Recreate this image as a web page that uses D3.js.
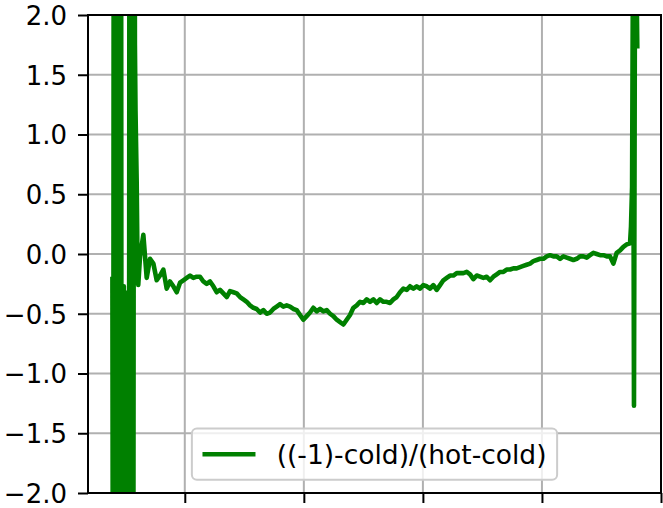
<!DOCTYPE html>
<html><head><meta charset="utf-8">
<script src="https://cdn.jsdelivr.net/npm/d3@7"></script>
<style>html,body{margin:0;padding:0;background:#fff;} svg{display:block;font-family:"DejaVu Sans",sans-serif;}</style>
</head><body><svg id="chart" width="663" height="508"></svg>
<script>
const seriesLabel = "((-1)-cold)/(hot-cold)";
const yTicks = [-2, -1.5, -1, -0.5, 0, 0.5, 1, 1.5, 2];
const xTicks = [1000, 2000, 3000, 4000, 5000];
const xLimits = [187, 5000];
const yLimits = [-2, 2];

// left edge: wild oscillation
const leftSpikeX = [392,398,404,410,416,422,428,434,440,446,452,458,464,470,476,482,488,494,500,506,512,518,524,530,536,542,548,554,560,566,571,576,581,586,591,596,601,609];
const leftSpikeY = [-0.19,-5,5,-5,5,-5,5,-5,5,-5,5,-5,5,-5,-0.28,-5,-0.27,-5,-0.32,-5,-0.55,-5,-0.55,-5,5,-5,5,-5,5,-5,0.55,5,1.75,1.2,0.9,0.6,0.1,-0.26];

// main body, evenly sampled
const bodyStartX = 624;
const bodyStepX = 28;
const bodyY = [
 -0.02,0.16,-0.20,-0.04,-0.08,-0.22,-0.18,-0.13,-0.29,-0.23,
 -0.27,-0.32,-0.24,-0.22,-0.20,-0.18,-0.20,-0.19,-0.19,-0.23,
 -0.25,-0.23,-0.27,-0.32,-0.30,-0.33,-0.36,-0.31,-0.32,-0.33,
 -0.36,-0.38,-0.40,-0.43,-0.45,-0.46,-0.49,-0.47,-0.50,-0.49,
 -0.46,-0.44,-0.42,-0.44,-0.43,-0.44,-0.46,-0.47,-0.51,-0.55,
 -0.52,-0.49,-0.45,-0.48,-0.46,-0.48,-0.47,-0.50,-0.52,-0.55,
 -0.57,-0.59,-0.55,-0.51,-0.45,-0.43,-0.40,-0.41,-0.38,-0.40,
 -0.38,-0.41,-0.38,-0.40,-0.40,-0.41,-0.38,-0.36,-0.32,-0.29,
 -0.30,-0.27,-0.29,-0.27,-0.29,-0.26,-0.27,-0.29,-0.26,-0.30,
 -0.26,-0.22,-0.20,-0.18,-0.18,-0.16,-0.16,-0.16,-0.15,-0.17,
 -0.21,-0.18,-0.19,-0.20,-0.19,-0.22,-0.19,-0.17,-0.15,-0.15,
 -0.13,-0.13,-0.12,-0.12,-0.11,-0.10,-0.09,-0.08,-0.06,-0.05,
 -0.04,-0.04,-0.02,-0.01,-0.02,-0.02,-0.04,-0.02,-0.03,-0.04,
 -0.05,-0.04,-0.02,-0.02,-0.03,-0.01,0.01,0.00,-0.01,-0.01,
 -0.02,-0.02,-0.08,0.01,0.03,0.06,0.08,0.09
];

// right edge spike
const rightSpikeX = [4748,4757,4765,4773,4782,4792,4801];
const rightSpikeY = [0.23,0.56,2.6,-1.27,2.6,2.5,1.72];

const W = 663, H = 508;
const margin = {left: 88, right: 2, top: 15, bottom: 15};
const L = margin.left, R = W - margin.right, T = margin.top, B = H - margin.bottom;
const tickFs = 26, legFs = 26.5;

const points = [];
leftSpikeX.forEach((x, i) => points.push([x, leftSpikeY[i]]));
bodyY.forEach((y, i) => points.push([bodyStartX + i * bodyStepX, y]));
rightSpikeX.forEach((x, i) => points.push([x, rightSpikeY[i]]));

const x = d3.scaleLinear().domain(xLimits).range([L, R]);
const y = d3.scaleLinear().domain(yLimits).range([B, T]);

const svg = d3.select("#chart");
svg.append("rect").attr("width", W).attr("height", H).attr("fill", "#fff");

svg.append("defs").append("clipPath").attr("id", "clip")
  .append("rect").attr("x", L).attr("y", T).attr("width", R - L).attr("height", B - T);

// grid
const grid = svg.append("g").attr("stroke", "#b0b0b0").attr("stroke-width", 2);
xTicks.forEach(t => grid.append("line").attr("x1", x(t)).attr("x2", x(t)).attr("y1", T).attr("y2", B));
yTicks.forEach(t => grid.append("line").attr("x1", L).attr("x2", R).attr("y1", y(t)).attr("y2", y(t)));

// line
svg.append("path").datum(points)
  .attr("clip-path", "url(#clip)")
  .attr("fill", "none").attr("stroke", "#008000").attr("stroke-width", 4.6)
  .attr("stroke-linejoin", "round")
  .attr("d", d3.line().x(d => x(d[0])).y(d => y(d[1])));

// axes (x tick labels fall below the visible area in the reference, so only the marks are drawn)
const yAxis = d3.axisLeft(y).tickValues(yTicks).tickFormat(d3.format(".1f")).tickSize(10).tickPadding(11);
const gy = svg.append("g").attr("transform", `translate(${L},0)`).call(yAxis);
const xAxis = d3.axisBottom(x).tickValues(xTicks).tickFormat(() => "").tickSize(10);
const gx = svg.append("g").attr("transform", `translate(0,${B})`).call(xAxis);
[gx, gy].forEach(g => {
  g.select(".domain").remove();
  g.selectAll(".tick line").attr("stroke", "#000").attr("stroke-width", 2);
  g.selectAll(".tick text").attr("fill", "#000").attr("font-size", tickFs).attr("font-family", "DejaVu Sans");
});
gx.selectAll(".tick text").remove();
gy.selectAll(".tick text").attr("dy", "0.36em");

// frame
svg.append("rect").attr("x", L).attr("y", T).attr("width", R - L).attr("height", B - T)
  .attr("fill", "none").attr("stroke", "#000").attr("stroke-width", 2);

// legend
const leg = svg.append("g");
const box = leg.append("rect");
const lineSample = leg.append("line");
const txt = leg.append("text").text(seriesLabel).attr("font-size", legFs).attr("fill", "#000");
const tw = txt.node().getComputedTextLength();
const pad = 0.4 * legFs, hl = 2 * legFs, htp = 0.8 * legFs;
const bw = 2 * pad + hl + htp + tw;
const bh = 2 * pad + 1.13 * legFs;
const bx = (L + R) / 2 - bw / 2;
const by = B - 0.5 * legFs - bh;
box.attr("x", bx).attr("y", by).attr("width", bw).attr("height", bh).attr("rx", 5)
  .attr("fill", "#fff").attr("fill-opacity", 0.8).attr("stroke", "#cccccc").attr("stroke-width", 2);
const cy = by + bh / 2;
lineSample.attr("x1", bx + pad).attr("x2", bx + pad + hl).attr("y1", cy).attr("y2", cy)
  .attr("stroke", "#008000").attr("stroke-width", 4.6);
txt.attr("x", bx + pad + hl + htp).attr("y", cy).attr("dy", "0.36em");
</script></body></html>
